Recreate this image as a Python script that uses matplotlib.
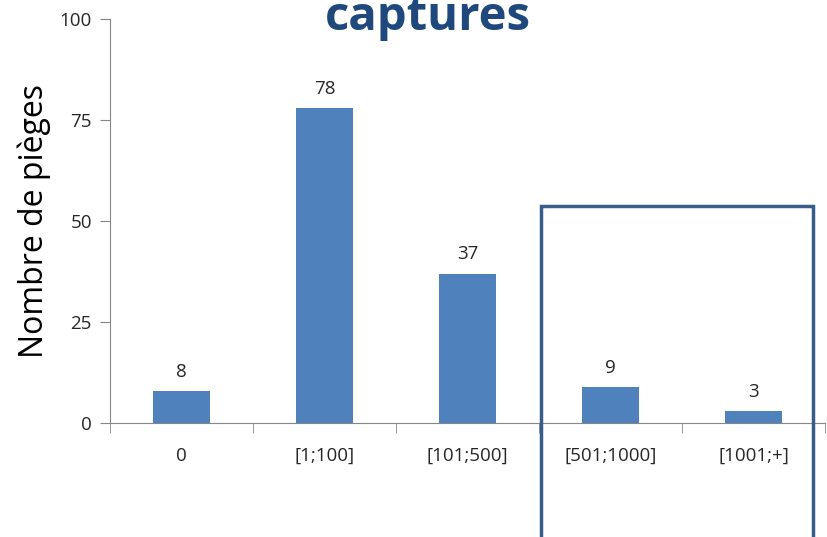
import matplotlib.pyplot as plt
from matplotlib.patches import Rectangle

categories = ['0', '[1;100]', '[101;500]', '[501;1000]', '[1001;+]']
values = [8, 78, 37, 9, 3]

fig = plt.figure(figsize=(8.27, 5.37), dpi=100)
ax = fig.add_axes([110 / 827, 1 - 423 / 537, 715 / 827, 404 / 537])

x = list(range(len(categories)))
ax.bar(x, values, width=0.4, color='#4F81BD', zorder=2)
for xi, v in zip(x, values):
    ax.text(xi, v + 2.5, str(v), ha='center', va='bottom', fontsize=13.5,
            family='Open Sans', color='#262626')

ax.set_xlim(-0.5, len(categories) - 0.5)
ax.set_ylim(0, 100)
ax.set_yticks([0, 25, 50, 75, 100])
ax.set_xticks(x)
ax.set_xticklabels(categories, family='Open Sans', fontsize=13.5, color='#262626')
for lab in ax.get_yticklabels():
    lab.set_family('Open Sans')
    lab.set_fontsize(13.5)
    lab.set_color('#262626')

# ticks between categories on x axis
ax.set_xticks([i - 0.5 for i in range(len(categories) + 1)], minor=True)
ax.tick_params(axis='x', which='major', length=0, pad=17)
ax.tick_params(axis='x', which='minor', length=7, direction='out', color='#868686')
ax.tick_params(axis='y', length=7, direction='out', color='#868686', pad=6)

for s in ['top', 'right']:
    ax.spines[s].set_visible(False)
for s in ['left', 'bottom']:
    ax.spines[s].set_color('#868686')

ax.set_ylabel('Nombre de pièges', fontsize=23, family='Open Sans', color='black', labelpad=6)

fig.text(428 / 827, 1 - 30 / 537, 'captures', ha='center', va='baseline',
         fontsize=34, fontweight='bold', family='Open Sans', color='#1F497D')

# highlight box around the last two categories
fig.patches.append(Rectangle((541 / 827, -0.05), 272 / 827, 1.05 - 206 / 537,
                             transform=fig.transFigure, fill=False,
                             edgecolor='#385D8A', linewidth=2.5, zorder=5))

fig.savefig('out.png', dpi=100)
